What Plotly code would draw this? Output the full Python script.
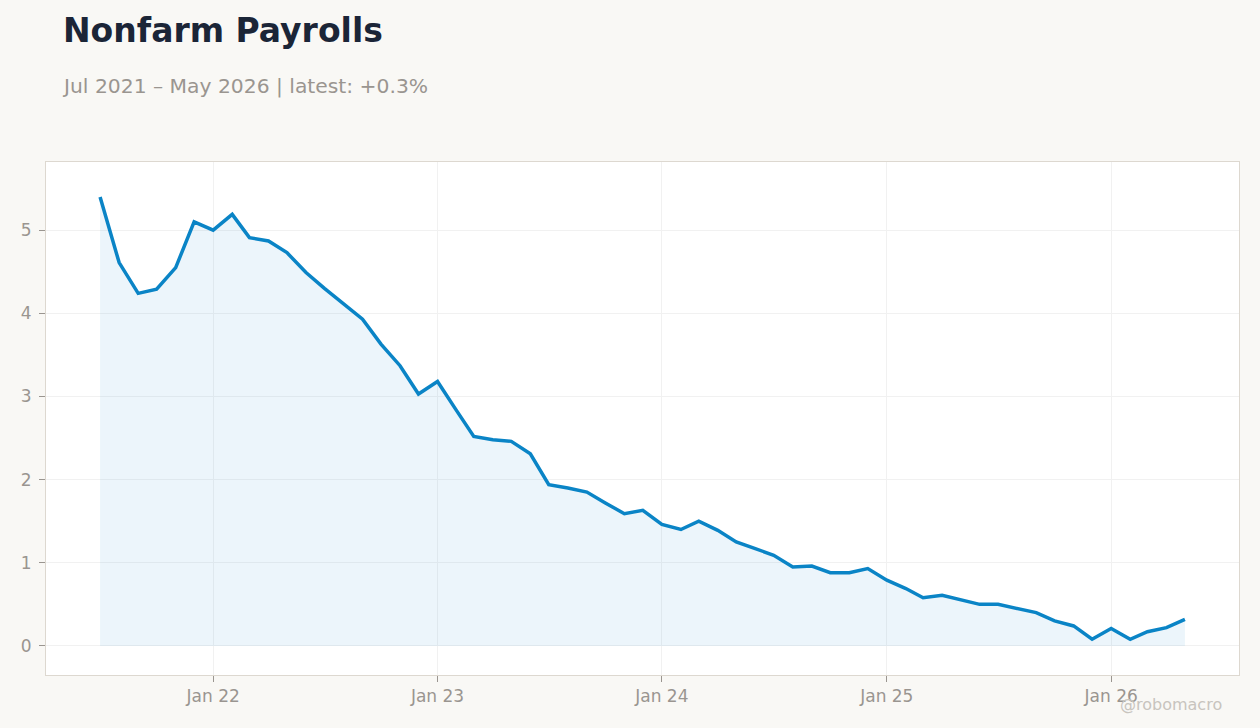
import pandas as pd
import plotly.graph_objects as go

title_text = "Nonfarm Payrolls"
subtitle_text = "Jul 2021 – May 2026 | latest: +0.3%"
watermark_text = "@robomacro"

dates = pd.date_range("2021-07-01", "2026-05-01", freq="MS")
values = [
    5.40, 4.61, 4.24, 4.29, 4.55, 5.10,
    5.00, 5.19, 4.91, 4.87, 4.73, 4.49, 4.30, 4.11, 3.93, 3.63, 3.37, 3.03,
    3.18, 2.83, 2.52, 2.48, 2.46, 2.31, 1.94, 1.90, 1.85, 1.72, 1.59, 1.63,
    1.46, 1.40, 1.50, 1.39, 1.25, 1.17, 1.09, 0.95, 0.96, 0.88, 0.88, 0.93,
    0.79, 0.69, 0.58, 0.61, 0.56, 0.50, 0.50, 0.45, 0.40, 0.30, 0.24, 0.08,
    0.21, 0.08, 0.17, 0.22, 0.32,
]

line_color = "#0a84c6"
bg_color = "#f9f8f5"
grid_color = "#f1f1f1"
frame_color = "#ddd8d0"
tick_color = "#9a9590"

fig = go.Figure()
fig.add_trace(go.Scatter(
    x=dates, y=values, mode="lines",
    line=dict(color=line_color, width=3.5),
    fill="tozeroy", fillcolor="rgba(10,132,198,0.08)",
    showlegend=False,
))

fig.update_layout(
    width=1260, height=728,
    paper_bgcolor=bg_color, plot_bgcolor="#ffffff",
    margin=dict(l=46, r=21, t=162, b=53),
    font=dict(family="DejaVu Sans", color=tick_color, size=17),
    annotations=[
        dict(text=f"<b>{title_text}</b>", xref="paper", yref="paper",
             x=(61 - 46) / 1193, y=1 + (162 - 30) / 513, xanchor="left", yanchor="middle",
             showarrow=False, font=dict(size=33, color="#1b2537", family="DejaVu Sans")),
        dict(text=subtitle_text, xref="paper", yref="paper",
             x=(60 - 46) / 1193, y=1 + (162 - 86) / 513, xanchor="left", yanchor="middle",
             showarrow=False, font=dict(size=20.3, color="#9a9590", family="DejaVu Sans")),
        dict(text=watermark_text, xref="paper", yref="paper",
             x=(1224 - 46) / 1193, y=(675 - 705) / 513, xanchor="right", yanchor="middle",
             showarrow=False, font=dict(size=16, color="#c8c4be", family="DejaVu Sans")),
    ],
)

fig.update_xaxes(
    range=["2021-04-04", "2026-07-28"],
    tickformat="%b %y", dtick="M12", tick0="2022-01-01",
    showgrid=True, gridcolor=grid_color, gridwidth=1,
    showline=True, linecolor=frame_color, linewidth=1, mirror=True,
    ticks="outside", ticklen=6, tickcolor=tick_color,
    zeroline=False,
)
fig.update_yaxes(
    range=[-0.35, 5.82], dtick=1,
    showgrid=True, gridcolor=grid_color, gridwidth=1,
    showline=True, linecolor=frame_color, linewidth=1, mirror=True,
    ticks="outside", ticklen=6, tickcolor=tick_color, ticklabelstandoff=4,
    zeroline=False,
)

fig.write_html(
    "out.html",
    config={"displayModeBar": False},
    post_script="document.body.style.margin='0';document.body.style.background='%s';" % bg_color,
)
